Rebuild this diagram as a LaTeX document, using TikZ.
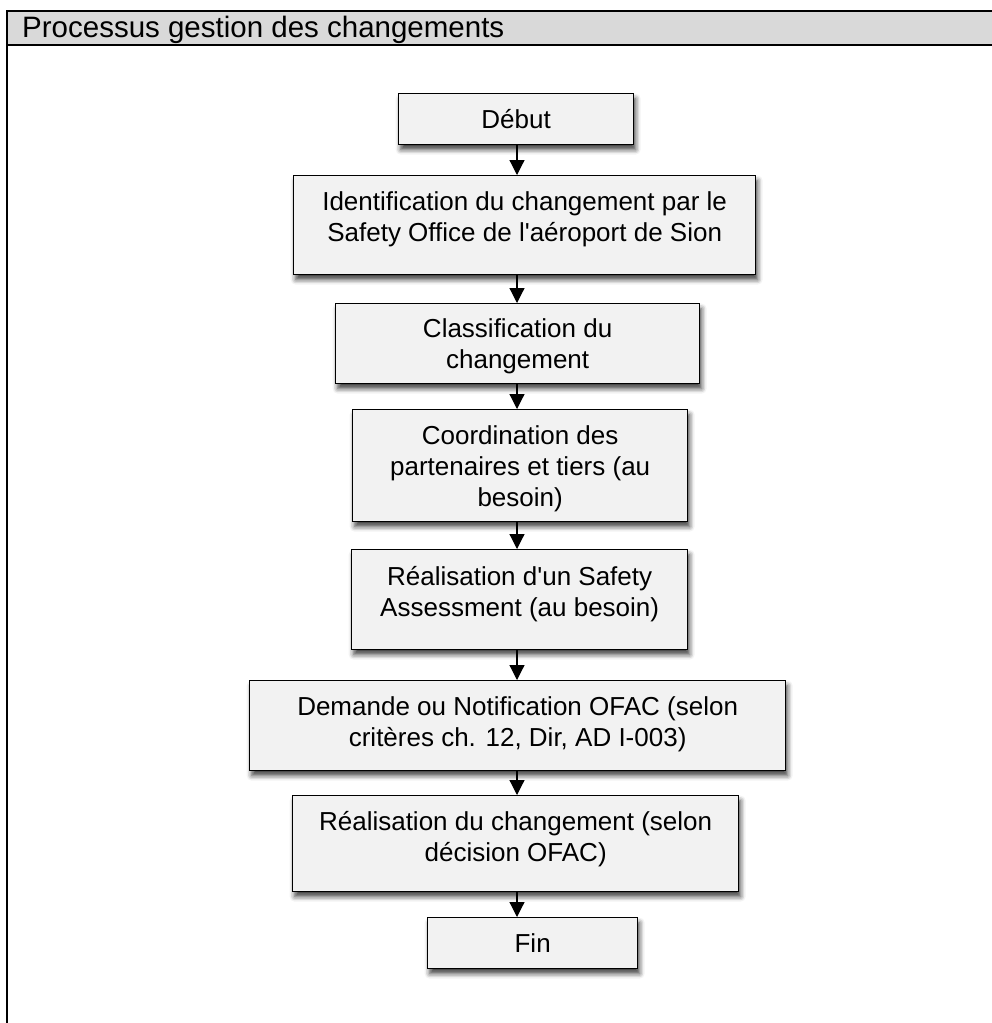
\documentclass[tikz,border=0pt]{standalone}
\usepackage{fontspec}
\newfontfamily\arial{Liberation Sans}
\usetikzlibrary{arrows.meta,shadows.blur}
\definecolor{boxfill}{HTML}{F2F2F2}
\definecolor{headfill}{HTML}{D9D9D9}
\tikzset{
  box/.style={draw=black, line width=1.3pt, fill=boxfill, inner sep=0pt,
    blur shadow={shadow xshift=2pt, shadow yshift=-5pt, shadow blur radius=5pt, shadow opacity=75}},
  txt/.style={font=\arial\fontsize{26}{31}\selectfont, align=center, inner sep=0pt},
  arr/.style={line width=1.2pt, -{Triangle[width=15pt,length=15pt]}},
  frame/.style={line width=2pt}
}
\begin{document}
\begin{tikzpicture}[x=1pt,y=-1pt]
\useasboundingbox (0,0) rectangle (992,1023);
\clip (0,0) rectangle (992,1023);
% frame and header
\path[fill=headfill] (7,10.5) rectangle (1010,45);
\draw[frame] (7,1040) -- (7,10.5) -- (1010,10.5);
\draw[frame] (7,45) -- (1010,45);
\node[font=\arial\fontsize{29.5}{33}\selectfont, anchor=base west, inner sep=0pt] (title) at (22,37) {Processus gestion des changements};
\coordinate (ax) at (517,0);
% boxes
\node[box, anchor=north west, minimum width=235pt, minimum height=51pt] (b1) at (398,93) {};
\node[box, anchor=north west, minimum width=462pt, minimum height=99pt] (b2) at (293,175) {};
\node[box, anchor=north west, minimum width=364pt, minimum height=80pt] (b3) at (335,303) {};
\node[box, anchor=north west, minimum width=335pt, minimum height=112pt] (b4) at (352,409) {};
\node[box, anchor=north west, minimum width=336pt, minimum height=100pt] (b5) at (351,549) {};
\node[box, anchor=north west, minimum width=536pt, minimum height=90pt] (b6) at (249,680) {};
\node[box, anchor=north west, minimum width=446pt, minimum height=96pt] (b7) at (292,795) {};
\node[box, anchor=north west, minimum width=210pt, minimum height=51pt] (b8) at (427,917) {};
% texts
\node[txt] (t1) at (b1.center) {Début};
\node[txt, anchor=north] (t2) at ([yshift=-16pt]b2.north) {Identification du changement par le\\Safety Office de l'aéroport de Sion};
\node[txt, anchor=north] (t3) at ([yshift=-15pt]b3.north) {Classification du\\changement};
\node[txt, anchor=north] (t4) at ([yshift=-16pt]b4.north) {Coordination des\\partenaires et tiers (au\\besoin)};
\node[txt, anchor=north] (t5) at ([yshift=-17pt]b5.north) {Réalisation d'un Safety\\Assessment (au besoin)};
\node[txt, anchor=north] (t6) at ([yshift=-16pt]b6.north) {Demande ou Notification OFAC (selon\\critères ch. 12, Dir, AD I-003)};
\node[txt, anchor=north] (t7) at ([yshift=-16pt]b7.north) {Réalisation du changement (selon\\décision OFAC)};
\node[txt] (t8) at (b8.center) {Fin};
% arrows
\draw[arr] (b1.south -| ax) -- (b2.north -| ax);
\draw[arr] (b2.south -| ax) -- (b3.north -| ax);
\draw[arr] (b3.south -| ax) -- (b4.north -| ax);
\draw[arr] (b4.south -| ax) -- (b5.north -| ax);
\draw[arr] (b5.south -| ax) -- (b6.north -| ax);
\draw[arr] (b6.south -| ax) -- (b7.north -| ax);
\draw[arr] (b7.south -| ax) -- (b8.north -| ax);
\end{tikzpicture}
\end{document}
